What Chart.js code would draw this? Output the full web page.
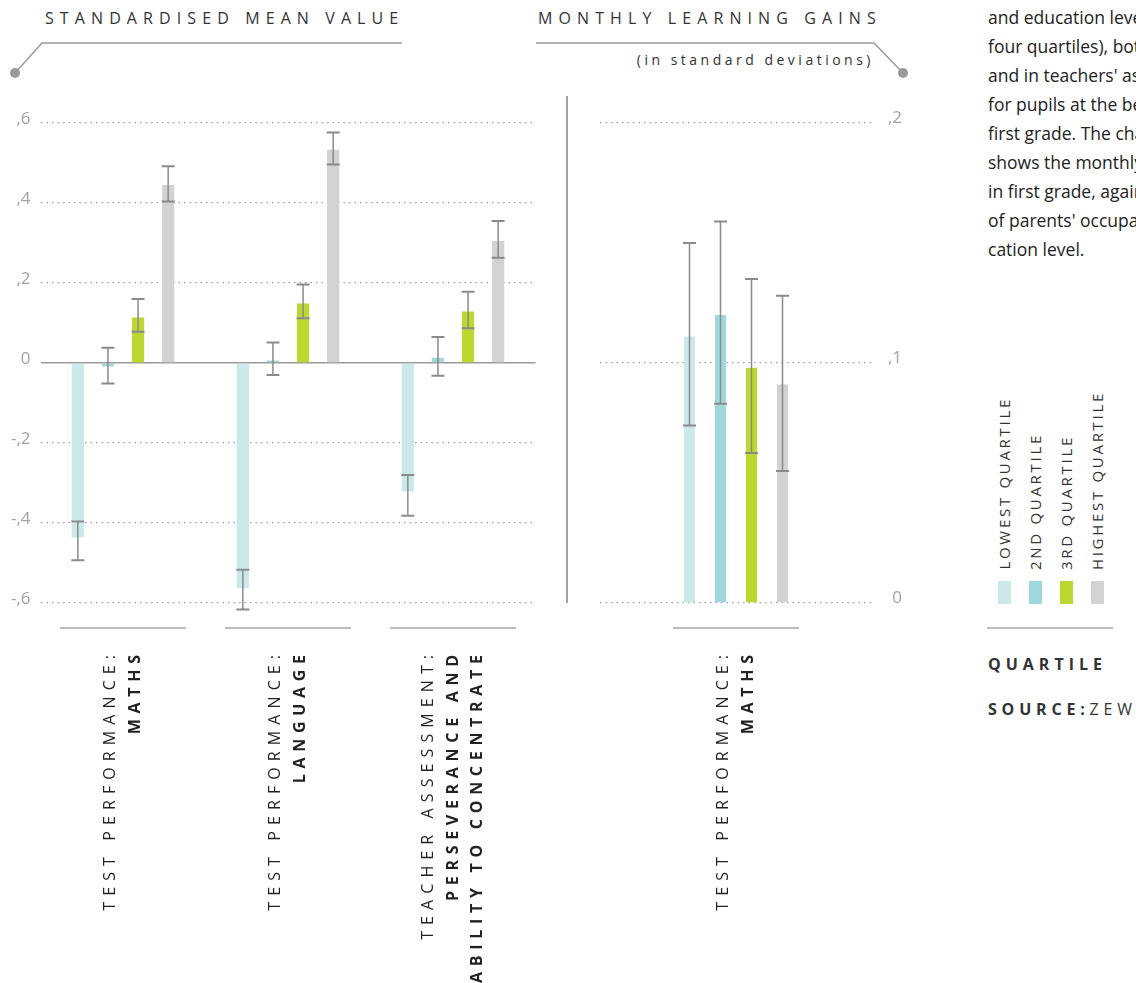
<!DOCTYPE html>
<html>
<head>
<meta charset="utf-8">
<script src="https://cdn.jsdelivr.net/npm/chart.js@4.4.1/dist/chart.umd.min.js"></script>
<style>
  body { margin: 0; width: 1136px; height: 983px; overflow: hidden; background: #fff; position: relative; font-family: 'Open Sans', sans-serif; }
  canvas { position: absolute; }
  .head { position: absolute; font-size: 16px; letter-spacing: 6.1px; color: #333; white-space: nowrap; line-height: 20px; }
  #sub { position: absolute; left: 560px; width: 314px; top: 50px; text-align: right; font-size: 14px; letter-spacing: 3.5px; color: #333; white-space: nowrap; line-height: 20px; }
  #note { position: absolute; left: 988px; top: 3px; font-size: 17.5px; line-height: 29px; color: #222; white-space: nowrap; }
  .legend-item { position: absolute; top: 370px; height: 234px; width: 13px; display: flex; flex-direction: column; justify-content: flex-end; align-items: center; }
  .legend-item span { writing-mode: vertical-rl; transform: rotate(180deg); font-size: 15px; letter-spacing: 2.7px; color: #333; white-space: nowrap; line-height: 13px; }
  .legend-item i { display: block; width: 13px; height: 23px; margin-top: 11px; }
  #legendTitle { position: absolute; left: 988px; top: 653px; font-size: 16px; font-weight: 700; letter-spacing: 5px; color: #333; }
  #source { position: absolute; left: 988px; top: 698px; font-size: 16px; letter-spacing: 4.8px; color: #333; white-space: nowrap; }
  #source b { font-weight: 700; }
  svg { position: absolute; left: 0; top: 0; }
</style>
</head>
<body>
<svg width="1136" height="983">
  <polyline points="15,73 42,43 402,43" fill="none" stroke="#9a9a9a" stroke-width="1.5"/>
  <circle cx="15" cy="73" r="5" fill="#9a9a9a"/>
  <polyline points="536,43 874,43 903,73" fill="none" stroke="#9a9a9a" stroke-width="1.5"/>
  <circle cx="903" cy="73" r="5" fill="#9a9a9a"/>
  <line x1="567" y1="96" x2="567" y2="603" stroke="#a3a3a3" stroke-width="2"/>
  <line x1="987" y1="628" x2="1113" y2="628" stroke="#bdbdbd" stroke-width="2"/>
</svg>
<div class="head" style="left:45px; top:8px;">STANDARDISED MEAN VALUE</div>
<div class="head" style="left:538px; top:8px;">MONTHLY LEARNING GAINS</div>
<div id="sub">(in standard deviations)</div>
<div id="note">
  and education level (in<br>
  four quartiles), both in test scores<br>
  and in teachers' assessments<br>
  for pupils at the beginning of<br>
  first grade. The chart on the right<br>
  shows the monthly learning gains<br>
  in first grade, against the background<br>
  of parents' occupational and edu-<br>
  cation level.
</div>
<div id="legend"></div>
<div id="legendTitle">QUARTILE</div>
<div id="source"><b>SOURCE:</b>ZEW</div>

<canvas id="levelChart" width="560" height="893" style="left:0; top:90px; width:560px; height:893px;"></canvas>
<canvas id="gainChart" width="360" height="893" style="left:560px; top:90px; width:360px; height:893px;"></canvas>

<script>
// quartiles of parents' occupation and education level
const quartiles = ['LOWEST QUARTILE', '2ND QUARTILE', '3RD QUARTILE', 'HIGHEST QUARTILE'];
const quartileColors = ['#cbe9eb', '#9ed8dc', '#bed630', '#d1d2d4'];

// left panel: standardised mean value at the start of first grade
const levelCategories = [
  ['TEST PERFORMANCE:', 'MATHS'],
  ['TEST PERFORMANCE:', 'LANGUAGE'],
  ['TEACHER ASSESSMENT:', 'PERSEVERANCE AND', 'ABILITY TO CONCENTRATE']
];
const levelLowest  = [-0.436, -0.563, -0.321];
const level2nd     = [-0.009, 0.006, 0.013];
const level3rd     = [0.114, 0.149, 0.129];
const levelHighest = [0.445, 0.533, 0.305];
// confidence intervals [low, high]
const levelLowestCI  = [[-0.493, -0.396], [-0.616, -0.517], [-0.382, -0.280]];
const level2ndCI     = [[-0.051, 0.038], [-0.030, 0.051], [-0.032, 0.065]];
const level3rdCI     = [[0.078, 0.160], [0.112, 0.196], [0.087, 0.178]];
const levelHighestCI = [[0.404, 0.492], [0.496, 0.576], [0.263, 0.355]];
const levelTicks = ['-,6', '-,4', '-,2', '0', ',2', ',4', ',6'];

// right panel: monthly learning gains in maths
const gainCategories = [['TEST PERFORMANCE:', 'MATHS']];
const gainLowest  = [0.111];
const gain2nd     = [0.120];
const gain3rd     = [0.098];
const gainHighest = [0.091];
const gainLowestCI  = [[0.074, 0.150]];
const gain2ndCI     = [[0.083, 0.159]];
const gain3rdCI     = [[0.0625, 0.135]];
const gainHighestCI = [[0.055, 0.128]];
const gainTicks = ['0', ',1', ',2'];

const FONT = "'Open Sans', sans-serif";

// legend: rotated labels above colour swatches
const legend = document.getElementById('legend');
quartiles.forEach((q, i) => {
  const item = document.createElement('div');
  item.className = 'legend-item';
  item.style.left = (998 + i * 31) + 'px';
  item.innerHTML = '<span>' + q + '</span><i style="background:' + quartileColors[i] + '"></i>';
  legend.appendChild(item);
});

// whiskers for each bar, read from dataset.ci
const errorBars = {
  id: 'errorBars',
  afterDatasetsDraw(chart) {
    const ctx = chart.ctx, y = chart.scales.y;
    ctx.save();
    ctx.strokeStyle = '#8a8a8a';
    chart.data.datasets.forEach((ds, i) => {
      chart.getDatasetMeta(i).data.forEach((bar, j) => {
        const yLo = y.getPixelForValue(ds.ci[j][0]);
        const yHi = y.getPixelForValue(ds.ci[j][1]);
        ctx.lineWidth = 1.5;
        ctx.beginPath();
        ctx.moveTo(bar.x, yLo); ctx.lineTo(bar.x, yHi);
        ctx.stroke();
        ctx.lineWidth = 2;
        ctx.beginPath();
        ctx.moveTo(bar.x - 6.5, yLo); ctx.lineTo(bar.x + 6.5, yLo);
        ctx.moveTo(bar.x - 6.5, yHi); ctx.lineTo(bar.x + 6.5, yHi);
        ctx.stroke();
      });
    });
    ctx.restore();
  }
};

// rule under each group and rotated category names below it
const categoryLabels = {
  id: 'categoryLabels',
  afterDraw(chart, args, opts) {
    const ctx = chart.ctx, x = chart.scales.x;
    chart.data.labels.forEach((lines, i) => {
      const cx = x.getPixelForValue(i);
      ctx.save();
      ctx.strokeStyle = '#bdbdbd';
      ctx.lineWidth = 2;
      ctx.beginPath();
      ctx.moveTo(cx - 63, opts.ruleY); ctx.lineTo(cx + 63, opts.ruleY);
      ctx.stroke();
      lines.forEach((text, k) => {
        const bold = k > 0;
        const ls = bold ? 5.7 : 6.1;
        ctx.save();
        ctx.translate(cx + (k - (lines.length - 1) / 2) * 24.5, opts.textTop - ls);
        ctx.rotate(-Math.PI / 2);
        ctx.font = (bold ? '700 ' : '400 ') + '16px ' + FONT;
        ctx.letterSpacing = ls + 'px';
        ctx.textAlign = 'right';
        ctx.textBaseline = 'middle';
        ctx.fillStyle = '#222';
        ctx.fillText(text, 0, 0);
        ctx.restore();
      });
      ctx.restore();
    });
  }
};

function makeDatasets(values, cis, catPct, barPct) {
  return quartiles.map((q, i) => ({
    label: q,
    data: values[i],
    ci: cis[i],
    backgroundColor: quartileColors[i],
    borderWidth: 0,
    categoryPercentage: catPct,
    barPercentage: barPct
  }));
}

const isZero = ctx => ctx.tick && Math.abs(ctx.tick.value) < 1e-9;

new Chart(document.getElementById('levelChart'), {
  type: 'bar',
  data: {
    labels: levelCategories,
    datasets: makeDatasets(
      [levelLowest, level2nd, level3rd, levelHighest],
      [levelLowestCI, level2ndCI, level3rdCI, levelHighestCI],
      0.73, 0.405)
  },
  options: {
    responsive: false,
    animation: false,
    layout: { padding: { top: 33, bottom: 380, left: 0, right: 24.5 } },
    plugins: {
      legend: { display: false },
      tooltip: { enabled: false },
      categoryLabels: { ruleY: 538, textTop: 565 }
    },
    scales: {
      x: { display: false, offset: true },
      y: {
        min: -0.6, max: 0.6,
        afterFit: s => { s.width = 40.5; },
        ticks: {
          stepSize: 0.2,
          padding: 10,
          labelOffset: -4,
          color: '#a3a3a3',
          font: { family: FONT, size: 17 },
          callback: (v, i) => levelTicks[i]
        },
        grid: {
          drawTicks: false,
          color: ctx => isZero(ctx) ? '#9a9a9a' : '#9d9d9d',
          lineWidth: ctx => isZero(ctx) ? 1.5 : 1.3
        },
        border: { display: false, dash: ctx => isZero(ctx) ? [] : [1.5, 4] }
      }
    }
  },
  plugins: [errorBars, categoryLabels]
});

new Chart(document.getElementById('gainChart'), {
  type: 'bar',
  data: {
    labels: gainCategories,
    datasets: makeDatasets(
      [gainLowest, gain2nd, gain3rd, gainHighest],
      [gainLowestCI, gain2ndCI, gain3rdCI, gainHighestCI],
      0.456, 0.355)
  },
  options: {
    responsive: false,
    animation: false,
    layout: { padding: { top: 33, bottom: 380, left: 40, right: 18 } },
    plugins: {
      legend: { display: false },
      tooltip: { enabled: false },
      categoryLabels: { ruleY: 538, textTop: 565 }
    },
    scales: {
      x: { display: false, offset: true },
      y: {
        position: 'right',
        min: 0, max: 0.2,
        afterFit: s => { s.width = 30; },
        ticks: {
          stepSize: 0.1,
          padding: 0,
          labelOffset: -5,
          crossAlign: 'far',
          color: '#a3a3a3',
          font: { family: FONT, size: 17 },
          callback: (v, i) => gainTicks[i]
        },
        grid: { drawTicks: false, color: '#9d9d9d', lineWidth: 1.3 },
        border: { display: false, dash: [1.5, 4] }
      }
    }
  },
  plugins: [errorBars, categoryLabels]
});
</script>
</body>
</html>
